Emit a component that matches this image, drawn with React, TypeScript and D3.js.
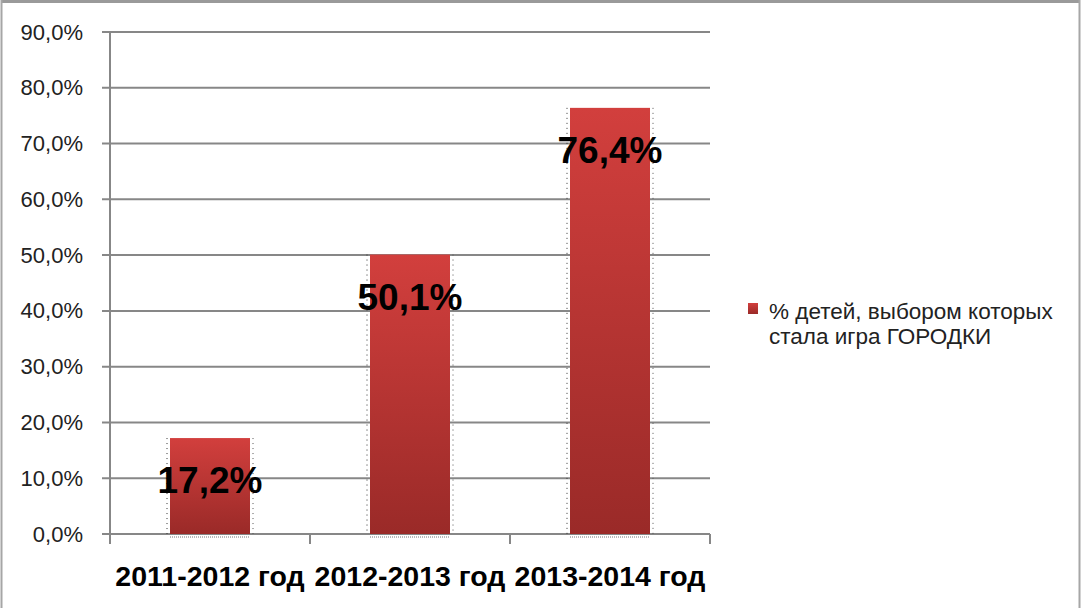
import React from "react";
import * as d3 from "d3";

const categories: string[] = ["2011-2012 год", "2012-2013 год", "2013-2014 год"];
const values: number[] = [17.2, 50.1, 76.4];
const valueLabels: string[] = ["17,2%", "50,1%", "76,4%"];
const yTicks: number[] = [0, 10, 20, 30, 40, 50, 60, 70, 80, 90];
const seriesName: string[] = ["% детей, выбором которых", "стала игра ГОРОДКИ"];

const W = 1081;
const H = 608;
const plotLeft = 110;
const plotRight = 710;
const plotTop = 32;
const plotBottom = 534;

export default function App() {
  const x = d3.scaleBand<string>().domain(categories).range([plotLeft, plotRight]).paddingInner(0.6).paddingOuter(0.3);
  const xOuter = d3.scaleBand<string>().domain(categories).range([plotLeft, plotRight]);
  const y = d3.scaleLinear().domain([0, 90]).range([plotBottom, plotTop]);
  const fmt = (v: number) => v.toFixed(1).replace(".", ",") + "%";
  const font = "'Liberation Sans', Arial, sans-serif";

  return (
    <svg width={W} height={H} style={{ display: "block", position: "absolute", left: 0, top: 0 }}>
      <defs>
        <linearGradient id="barGrad" x1="0" y1="0" x2="0" y2="1">
          <stop offset="0%" stopColor="#d23f3d" />
          <stop offset="100%" stopColor="#9a2a28" />
        </linearGradient>
        <linearGradient id="legGrad" x1="0" y1="0" x2="0" y2="1">
          <stop offset="0%" stopColor="#d23f3d" />
          <stop offset="100%" stopColor="#9a2a28" />
        </linearGradient>
      </defs>
      <rect x={0} y={0} width={W} height={H} fill="#ffffff" />
      {/* outer border */}
      <line x1={2} y1={1.5} x2={1080} y2={1.5} stroke="#9a9a9a" strokeWidth={3} />
      <line x1={1.5} y1={0} x2={1.5} y2={H} stroke="#a6a6a6" strokeWidth={2} />
      <line x1={1079.5} y1={0} x2={1079.5} y2={H} stroke="#a6a6a6" strokeWidth={2} />

      {/* gridlines and y ticks */}
      {yTicks.map((t) => (
        <g key={t}>
          <line x1={plotLeft - 8} x2={plotRight} y1={y(t)} y2={y(t)} stroke="#878787" strokeWidth={2} />
          <text x={83} y={y(t) + 7.5} textAnchor="end" fontFamily={font} fontSize={22} fill="#222">
            {fmt(t)}
          </text>
        </g>
      ))}
      {/* y axis */}
      <line x1={plotLeft} x2={plotLeft} y1={plotTop} y2={plotBottom} stroke="#878787" strokeWidth={2} />
      {/* x category ticks */}
      {[...categories.map((c) => xOuter(c) as number), plotRight].map((px, i) => (
        <line key={i} x1={px} x2={px} y1={plotBottom} y2={plotBottom + 10} stroke="#878787" strokeWidth={2} />
      ))}

      {/* bars */}
      {categories.map((c, i) => {
        const bx = x(c) as number;
        const bw = x.bandwidth();
        const top = y(values[i]);
        return (
          <g key={c}>
            <rect x={bx} y={top} width={bw} height={plotBottom - top} fill="url(#barGrad)" />
            <line x1={bx - 3} x2={bx - 3} y1={top} y2={plotBottom} stroke="#333" strokeWidth={1} strokeDasharray="1,4" />
            <line x1={bx + bw + 3} x2={bx + bw + 3} y1={top} y2={plotBottom} stroke="#555" strokeWidth={1} strokeDasharray="1,4" />
            <line x1={bx} x2={bx + bw} y1={plotBottom + 3} y2={plotBottom + 3} stroke="#777" strokeWidth={1} strokeDasharray="1,1" />
          </g>
        );
      })}

      {/* value labels */}
      {categories.map((c, i) => (
        <text
          key={c}
          x={(x(c) as number) + x.bandwidth() / 2}
          y={y(values[i]) + 55}
          textAnchor="middle"
          fontFamily={font}
          fontWeight="bold"
          fontSize={37}
          fill="#000"
        >
          {valueLabels[i]}
        </text>
      ))}

      {/* x labels */}
      {categories.map((c) => (
        <text
          key={c}
          x={(xOuter(c) as number) + xOuter.bandwidth() / 2}
          y={586}
          textAnchor="middle"
          fontFamily={font}
          fontWeight="bold"
          fontSize={28.5}
          fill="#000"
        >
          {c}
        </text>
      ))}

      {/* legend */}
      <rect x={748} y={303} width={10} height={11} fill="url(#legGrad)" />
      {seriesName.map((s, i) => (
        <text key={i} x={769} y={319 + i * 25} fontFamily={font} fontSize={22.5} fill="#222">
          {s}
        </text>
      ))}
    </svg>
  );
}
